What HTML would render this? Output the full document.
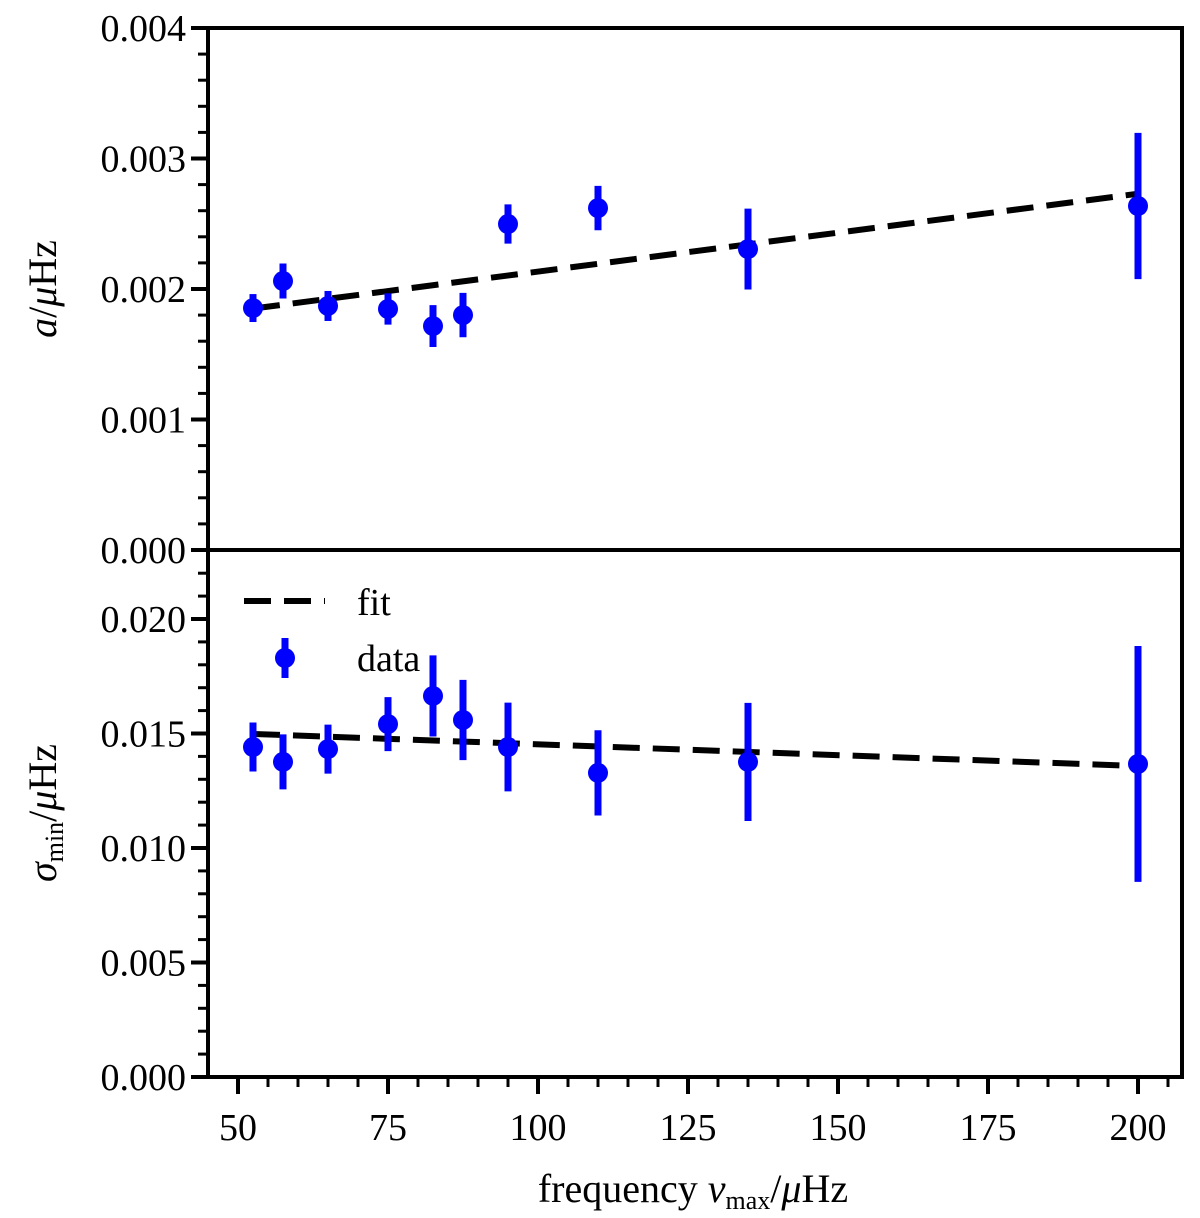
<!DOCTYPE html>
<html><head><meta charset="utf-8"><style>
html,body{margin:0;padding:0;background:#fff;}
svg text{font-family:"Liberation Serif",serif;fill:#000;}
</style></head><body>
<svg id="chart" width="1200" height="1213" viewBox="0 0 1200 1213" xmlns="http://www.w3.org/2000/svg">
<g id="g"></g>
</svg>
<script>
const nuMax = [52.5, 57.5, 65, 75, 82.5, 87.5, 95, 110, 135, 200];
const aVals = [0.001854, 0.002061, 0.00187, 0.001847, 0.001716, 0.0018, 0.002498, 0.00262, 0.002306, 0.002636];
const aErr = [0.000107, 0.000134, 0.000115, 0.00012, 0.00016, 0.00017, 0.00015, 0.00017, 0.00031, 0.00056];
const aFit = [0.00185, 0.00273];
const sVals = [0.01441, 0.01376, 0.01432, 0.01541, 0.01664, 0.01559, 0.01441, 0.01328, 0.01376, 0.01367];
const sErr = [0.00107, 0.0012, 0.00107, 0.00118, 0.00177, 0.00175, 0.00194, 0.00186, 0.00258, 0.00515];
const sFit = [0.01498, 0.01358];
const fitX = [52.5, 200];
const xTicks = [50, 75, 100, 125, 150, 175, 200];
const aTicks = ["0.000", "0.001", "0.002", "0.003", "0.004"];
const sTicks = ["0.000", "0.005", "0.010", "0.015", "0.020"];

const NS = "http://www.w3.org/2000/svg";
const g = document.getElementById('g');
const L = 208, R = 1182;
const FS = 38;
const X = v => 238 + (v - 50) * 6;
const YA = v => 550 - v * 130500;
const YS = v => 1077 - v * 22900;
function mk(tag, attrs, parent) {
  const e = document.createElementNS(NS, tag);
  for (const k in attrs) e.setAttribute(k, attrs[k]);
  (parent || g).appendChild(e);
  return e;
}
function txt(s, x, y, anchor, size, parent) {
  const t = mk('text', {x: x, y: y, 'text-anchor': anchor, 'font-size': size}, parent);
  t.textContent = s;
  return t;
}

const frame = mk('g', {});


mk('rect', {x: L, y: 28, width: R - L, height: 1049, fill: 'none', stroke: '#000', 'stroke-width': 4}, frame);
mk('line', {x1: L, y1: 550, x2: R, y2: 550, stroke: '#000', 'stroke-width': 4}, frame);

const ytA = mk('g', {});


for (let i = 0; i <= 20; i++) {
  const y = YA(i * 0.0002), major = i % 5 === 0;
  mk('line', {x1: L - (major ? 17 : 10), y1: y, x2: L, y2: y, stroke: '#000', 'stroke-width': major ? 4 : 3}, ytA);
}
aTicks.forEach((s, i) => txt(s, 186, YA(i * 0.001) + 13, 'end', FS, ytA));

const ytS = mk('g', {});


for (let i = 0; i <= 23; i++) {
  const y = YS(i * 0.001), major = i % 5 === 0;
  mk('line', {x1: L - (major ? 17 : 10), y1: y, x2: L, y2: y, stroke: '#000', 'stroke-width': major ? 4 : 3}, ytS);
}
sTicks.slice(1).forEach((s, i) => txt(s, 186, YS((i + 1) * 0.005) + 13, 'end', FS, ytS));
txt("0.000", 186, 1090, 'end', FS, ytS);

const xt = mk('g', {});


for (let v = 50; v <= 205; v += 5) {
  const major = v % 25 === 0;
  mk('line', {x1: X(v), y1: 1077, x2: X(v), y2: 1077 + (major ? 17 : 10), stroke: '#000', 'stroke-width': major ? 4 : 3}, xt);
}
xTicks.forEach(v => txt(String(v), X(v), 1140, 'middle', FS, xt));
const xl = txt("", 693, 1202, 'middle', 40, xt);
xl.innerHTML = 'frequency <tspan font-style="italic">ν</tspan><tspan font-size="26" dy="7">max</tspan><tspan dy="-7">/</tspan><tspan font-style="italic">μ</tspan>Hz';



const yl1 = txt("", 0, 0, 'middle', 40);
yl1.setAttribute('transform', 'translate(56,289) rotate(-90)');
yl1.innerHTML = '<tspan font-style="italic">a</tspan>/<tspan font-style="italic">μ</tspan>Hz';


const yl2 = txt("", 0, 0, 'middle', 40);
yl2.setAttribute('transform', 'translate(56,813) rotate(-90)');
yl2.innerHTML = '<tspan font-style="italic">σ</tspan><tspan font-size="26" dy="7">min</tspan><tspan dy="-7">/</tspan><tspan font-style="italic">μ</tspan>Hz';



function series(vals, errs, fit, Y, name) {
  const fl = mk('line', {x1: X(fitX[0]), y1: Y(fit[0]), x2: X(fitX[1]), y2: Y(fit[1]), stroke: '#000', 'stroke-width': 6, 'stroke-dasharray': '27,13'});
  
  
  nuMax.forEach((x, i) => {
    const p = mk('g', {});
    
    
    mk('line', {x1: X(x), y1: Y(vals[i] - errs[i]), x2: X(x), y2: Y(vals[i] + errs[i]), stroke: '#0000ff', 'stroke-width': 7}, p);
    mk('circle', {cx: X(x), cy: Y(vals[i]), r: 10, fill: '#0000ff'}, p);
  });
}
series(aVals, aErr, aFit, YA, 'a');
series(sVals, sErr, sFit, YS, 'sigma');

const lg = mk('g', {});


const le1 = mk('g', {}, lg);


mk('line', {x1: 244, y1: 601, x2: 325, y2: 601, stroke: '#000', 'stroke-width': 6, 'stroke-dasharray': '27,13'}, le1);
txt("fit", 357, 615, 'start', FS, le1);
const le2 = mk('g', {}, lg);


mk('line', {x1: 285, y1: 638, x2: 285, y2: 678, stroke: '#0000ff', 'stroke-width': 7}, le2);
mk('circle', {cx: 285, cy: 658, r: 10, fill: '#0000ff'}, le2);
txt("data", 357, 671, 'start', FS, le2);
</script>
</body></html>
